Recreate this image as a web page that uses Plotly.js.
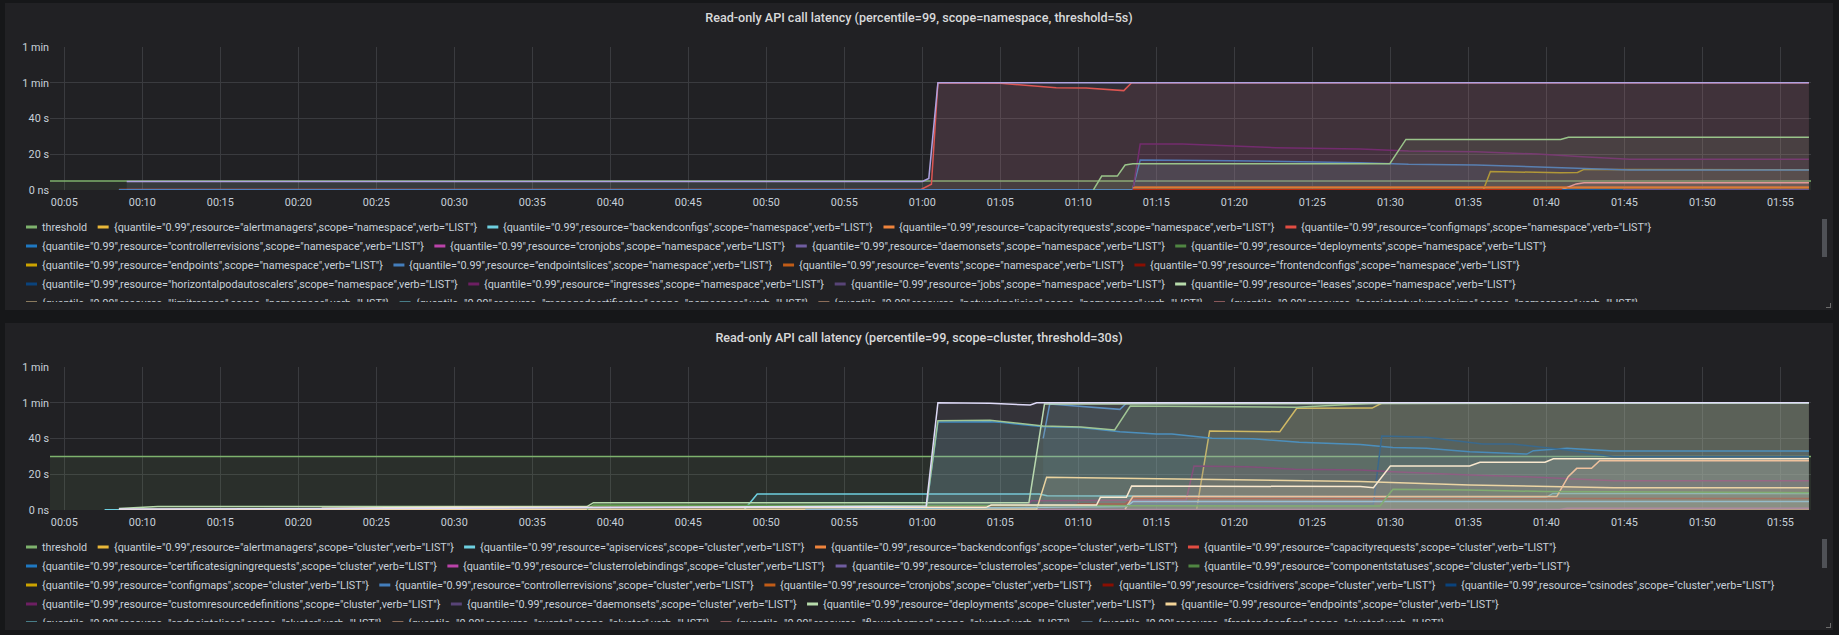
<!DOCTYPE html>
<html><head><meta charset="utf-8">
<script src="https://cdn.plot.ly/plotly-3.0.1.min.js"></script>
<style>
html,body{margin:0;padding:0;background:#161719;width:1839px;height:635px;overflow:hidden;}
.panel{position:absolute;left:5px;width:1828px;background:#212124;}
.fig{position:absolute;left:5px;width:1828px;height:299px;overflow:hidden;}
.handle{position:absolute;width:4px;height:4px;border-right:1px solid #6c6c6c;border-bottom:1px solid #6c6c6c;}
</style></head>
<body>
<div class="panel" style="top:3px;height:307px"></div>
<div class="panel" style="top:323px;height:307px"></div>
<div id="p1" class="fig" style="top:3px"></div>
<div id="p2" class="fig" style="top:323px"></div>
<div class="handle" style="left:1826px;top:303px"></div>
<div class="handle" style="left:1826px;top:623px"></div>
<script>
// ---------- shared ----------
const DAY = '2021-01-01 ';
const X_RANGE = ['00:04:05', '01:56:58'];
const Y_TICKS = [0, 20, 40, 60, 80];
const Y_LABELS = ['0 ns', '20 s', '40 s', '1 min', '1 min'];
const PALETTE = ['#7EB26D','#EAB839','#6ED0E0','#EF843C','#E24D42','#1F78C1','#BA43A9','#705DA0','#508642','#CCA300',
 '#447EBC','#C15C17','#890F02','#0A437C','#6D1F62','#584477','#B7DBAB','#F4D598','#70DBED','#F9BA8F',
 '#F29191','#82B5D8','#E5A8E2','#AEA2E0','#629E51','#E5AC0E','#64B0C8','#E0752D','#BF1B00','#0A50A1',
 '#962D82','#614D93','#9AC48A','#F2C96D','#65C5DB','#F9934E','#EA6460','#5195CE','#D683CE','#806EB7',
 '#3F6833','#967302','#2F575E','#99440A','#58140C','#052B51','#511749','#3F2B5B','#E0F9D7','#FCEACA',
 '#CFFAFF','#F9E2D2','#FCE2DE','#BADFF4','#F9D9F9','#DEDAF7'];

// ---------- panel 1: namespace scope ----------
const NS_TITLE = 'Read-only API call latency (percentile=99, scope=namespace, threshold=5s)';
const NS_RESOURCES = ['alertmanagers','backendconfigs','capacityrequests','configmaps','controllerrevisions','cronjobs',
 'daemonsets','deployments','endpoints','endpointslices','events','frontendconfigs','horizontalpodautoscalers',
 'ingresses','jobs','leases','limitranges','managedcertificates','networkpolicies','persistentvolumeclaims',
 'poddisruptionbudgets','pods','podtemplates','replicasets','replicationcontrollers','resourcequotas',
 'rolebindings','roles','secrets','serviceaccounts','services','statefulsets'];
const NS_THRESHOLD = 5;

const ns_threshold_t = ['00:03:00','01:58:00'];
const ns_threshold_v = [NS_THRESHOLD, NS_THRESHOLD];
const ns_configmaps_t = ['00:08:30','00:59:55','01:00:35','01:01:00','01:05:00','01:07:05','01:08:35','01:10:30','01:12:55','01:13:25','01:56:50'];
const ns_configmaps_v = [0.3,0.3,3.2,60,59.7,58.2,57.2,57.0,55.6,60,60];
const ns_endpoints_t = ['01:35:58','01:36:25','01:40:55','01:42:00','01:42:25','01:56:50'];
const ns_endpoints_v = [0.1,10.3,9.7,9.8,11.5,11.3];
const ns_endpointslices_t = ['00:08:30','01:13:28','01:13:58','01:16:40','01:19:55','01:28:05','01:30:00','01:31:10','01:35:30','01:39:25','01:42:20','01:45:20','01:56:50'];
const ns_endpointslices_v = [0.1,0.1,16.8,16.8,16.4,15.3,14.9,14.4,14.0,13.0,11.9,11.2,11.2];
const ns_events_t = ['01:13:30','01:56:50'];
const ns_events_v = [1.8,1.8];
const ns_ingresses_t = ['01:13:30','01:13:58','01:16:40','01:19:55','01:22:40','01:28:05','01:31:10','01:35:30','01:39:25','01:42:20','01:45:20','01:56:50'];
const ns_ingresses_v = [0.1,25.7,25.7,24.6,23.7,22.9,21.8,21.4,20.1,18.6,17.2,17.2];
const ns_persistentvolumeclaims_t = ['01:40:58','01:41:55','01:42:25','01:56:50'];
const ns_persistentvolumeclaims_v = [0.1,3.4,4.1,4.1];
const ns_podtemplates_t = ['00:09:00','01:00:00','01:00:25','01:01:00','01:56:50'];
const ns_podtemplates_v = [4.8,4.8,6.5,60,60];
const ns_rolebindings_t = ['01:13:30','01:56:50'];
const ns_rolebindings_v = [1.2,1.2];
const ns_roles_t = ['01:13:30','01:56:50'];
const ns_roles_v = [0.2,0.2];
const ns_secrets_t = ['01:41:00','01:56:50'];
const ns_secrets_v = [0.2,0.2];
const ns_services_t = ['01:44:55','01:56:50'];
const ns_services_v = [0.2,0.2];
const ns_statefulsets_t = ['01:10:58','01:11:30','01:12:30','01:13:00','01:13:30','01:29:58','01:31:00','01:40:55','01:41:25','01:56:50'];
const ns_statefulsets_v = [0.1,7.8,7.8,14,14.7,14.7,28.3,28.3,29.5,29.5];

// ---------- panel 2: cluster scope ----------
const CL_TITLE = 'Read-only API call latency (percentile=99, scope=cluster, threshold=30s)';
const CL_RESOURCES = ['alertmanagers','apiservices','backendconfigs','capacityrequests','certificatesigningrequests',
 'clusterrolebindings','clusterroles','componentstatuses','configmaps','controllerrevisions','cronjobs','csidrivers',
 'csinodes','customresourcedefinitions','daemonsets','deployments','endpoints','endpointslices','events','flowschemas',
 'frontendconfigs','horizontalpodautoscalers','ingressclasses','ingresses','jobs','leases','limitranges',
 'managedcertificates','mutatingwebhookconfigurations','namespaces','networkpolicies','nodes','persistentvolumeclaims',
 'persistentvolumes','poddisruptionbudgets','pods','podsecuritypolicies','podtemplates','priorityclasses',
 'prioritylevelconfigurations','replicasets','replicationcontrollers','resourcequotas','rolebindings','roles',
 'runtimeclasses','secrets','serviceaccounts','services','statefulsets','storageclasses',
 'validatingwebhookconfigurations','volumeattachments','volumesnapshotclasses','volumesnapshotcontents'];
const CL_THRESHOLD = 30;

const cl_threshold_t = ['00:03:00','01:58:00'];
const cl_threshold_v = [CL_THRESHOLD, CL_THRESHOLD];
const cl_alertmanagers_t = ['01:17:35','01:18:25','01:22:55','01:24:00','01:28:50','01:29:30','01:56:50'];
const cl_alertmanagers_v = [0.2,44.2,43.8,56.9,57,60,60];
const cl_apiservices_t = ['00:07:35','00:48:35','00:49:25','01:07:30','01:08:00','01:28:00','01:40:00','01:40:25','01:56:50'];
const cl_apiservices_v = [0.1,0.1,9.0,9.0,8.0,7.6,7.1,9.3,9.3];
const cl_backendconfigs_t = ['00:49:30','01:56:50'];
const cl_backendconfigs_v = [0.1,0.1];
const cl_certificatesigningrequests_t = ['00:52:30','01:00:15','01:01:00','01:04:20','01:05:10','01:07:45','01:10:10','01:12:40','01:15:00','01:16:00','01:18:35','01:21:10','01:24:10','01:28:05','01:30:10','01:32:20','01:35:05','01:38:45','01:39:10','01:41:20','01:44:20','01:56:50'];
const cl_certificatesigningrequests_v = [0.1,0.3,49.2,49.4,48.9,46.6,46.1,43.8,42.5,42.5,40.1,39.9,37.9,36.7,34.9,34.5,32.6,31.3,33.2,34.5,33.0,33.0];
const cl_clusterrolebindings_t = ['00:58:00','01:40:50','01:41:20','01:56:50'];
const cl_clusterrolebindings_v = [0.3,0.3,1.0,1.0];
const cl_controllerrevisions_t = ['01:07:45','01:08:10','01:12:40','01:13:05','01:56:50'];
const cl_controllerrevisions_v = [40.1,59.3,56.3,59.7,60];
const cl_csidrivers_t = ['00:49:30','01:09:30','01:10:00','01:13:00','01:13:30','01:56:50'];
const cl_csidrivers_v = [1.6,1.6,3.4,3.4,6.5,6.5];
const cl_csinodes_t = ['01:13:20','01:28:55','01:29:27','01:32:20','01:35:55','01:37:50','01:41:20','01:44:20','01:56:50'];
const cl_csinodes_v = [3.4,3.4,41.4,40.7,36.9,36.9,33.6,29.8,29.8];
const cl_customresourcedefinitions_t = ['01:06:30','01:07:00','01:16:55','01:17:25','01:20:50','01:23:50','01:28:05','01:30:10','01:35:05','01:38:45','01:44:20','01:56:50'];
const cl_customresourcedefinitions_v = [0.3,5.2,5.6,24.6,24.2,22.8,22.4,21.4,19.6,18.6,16.4,16.4];
const cl_deployments_t = ['00:08:30','00:11:00','00:38:30','00:38:55','01:06:50','01:07:50','01:56:50'];
const cl_deployments_v = [0.9,1.9,1.9,4.1,4.1,59.3,60];
const cl_endpoints_t = ['00:08:30','01:07:20','01:07:58','01:16:40','01:28:05','01:35:05','01:44:20','01:56:50'];
const cl_endpoints_v = [0.3,0.5,18.3,17.2,15.9,14.0,12.5,12.5];
const cl_events_t = ['01:13:00','01:13:30','01:40:40','01:41:24','01:41:57','01:42:54','01:43:25','01:56:50'];
const cl_events_v = [0.5,7.5,7.5,18.6,23.3,23.3,27.6,27.6];
const cl_frontendconfigs_t = ['00:52:30','01:13:05','01:13:30','01:56:50'];
const cl_frontendconfigs_v = [0.3,1.9,4.7,4.7];
const cl_ingresses_t = ['00:38:30','00:38:55','01:28:00','01:29:20','01:30:10','01:35:05','01:40:00','01:56:50'];
const cl_ingresses_v = [0.3,2.8,2.2,2.2,11.6,11.2,10.3,9.7];
const cl_nodes_t = ['01:00:15','01:01:00','01:04:20','01:07:45','01:10:10','01:12:20','01:13:20','01:24:00','01:29:30','01:56:50'];
const cl_nodes_v = [0.5,50.0,50.2,47.0,46.4,44.8,58.2,57.5,60,60];
const cl_services_t = ['00:21:30','00:30:00','01:04:05','01:04:25','01:11:10','01:11:25','01:13:05','01:13:25','01:28:05','01:28:55','01:30:00','01:35:05','01:35:45','01:39:55','01:40:27','01:56:50'];
const cl_services_v = [1.0,1.5,1.5,2.8,2.8,7.1,7.1,13.4,13.1,12.5,24.6,24.6,26.7,26.7,28.7,28.7];
const cl_volumesnapshotcontents_t = ['00:08:30','00:30:00','01:00:15','01:01:00','01:04:20','01:06:55','01:07:20','01:56:50'];
const cl_volumesnapshotcontents_v = [0.5,1.0,2.2,60,59.7,58.7,60,60];

// ---------- helpers ----------
function rgba(hex, a){
  const n = parseInt(hex.slice(1), 16);
  return 'rgba(' + ((n>>16)&255) + ',' + ((n>>8)&255) + ',' + (n&255) + ',' + a + ')';
}
function series(names, name, t, v){
  const label = name === 'threshold' ? 'threshold' : '{quantile="0.99",resource="' + name + '",scope="' + names.scope + '",verb="LIST"}';
  const idx = name === 'threshold' ? 0 : names.list.indexOf(name) + 1;
  const c = PALETTE[idx % PALETTE.length];
  return {idx: idx, trace: {type:'scatter', mode:'lines', name: label, x: t.map(s => DAY + s), y: v,
    line:{color:c, width:1.5}, fill:'tozeroy', fillcolor: rgba(c, 0.1), hoverinfo:'skip'}};
}

const FIG_W = 1828, FIG_H = 299, M = {l:45, r:22, t:44, b:112};
const PW = FIG_W - M.l - M.r, PH = FIG_H - M.t - M.b;
const px2x = px => (px - M.l) / PW;
const py2y = py => (FIG_H - M.b - py) / PH;
const FONT = 'Roboto, "Helvetica Neue", Arial, sans-serif';
const TXT = '#c7d0d9';

const meas = document.createElement('canvas').getContext('2d');
meas.font = '10.8px Roboto';

function legend(names){
  const labels = ['threshold'].concat(names.list.map(r => '{quantile="0.99",resource="' + r + '",scope="' + names.scope + '",verb="LIST"}'));
  const ann = [], shp = [];
  let x = 21, row = 0;
  const rowY = r => 224 + 19 * r;
  labels.forEach((lab, i) => {
    const w = 16 + meas.measureText(lab).width;
    if (x > 21 && x + w > 1817) { row++; x = 21; }
    if (row <= 4) {
      const y = rowY(row);
      const c = PALETTE[i % PALETTE.length];
      shp.push({type:'rect', xref:'paper', yref:'paper', x0:px2x(x), x1:px2x(x+11), y0:py2y(y+1.5), y1:py2y(y-1.5),
        fillcolor:c, line:{width:0}, layer:'above'});
      ann.push({xref:'paper', yref:'paper', x:px2x(x+16), y:py2y(y), xanchor:'left', yanchor:'middle', showarrow:false,
        text: lab.replace(/</g,'&lt;'), borderpad:0, borderwidth:0, font:{family:FONT, size:10.8, color:TXT}});
    }
    x += w + 10.5;
  });
  return {ann, shp};
}

function layoutFor(title, names, thumbH){
  const lg = legend(names);
  lg.shp.push({type:'rect', xref:'paper', yref:'paper', x0:px2x(1817), x1:px2x(1822), y0:py2y(216+thumbH), y1:py2y(216),
    fillcolor:'#4f5156', line:{width:0}, layer:'above'});
  return {
    width: FIG_W, height: FIG_H, margin: M,
    paper_bgcolor:'#212124', plot_bgcolor:'#212124', showlegend:false,
    title:{text:title, xref:'container', x:0.5, xanchor:'center', yref:'container', y:1 - 15/FIG_H, yanchor:'middle',
      font:{family:FONT, size:12.6, weight:500, color:'#d8d9da'}},
    xaxis:{type:'date', range:[DAY + X_RANGE[0], DAY + X_RANGE[1]], tick0: DAY + '00:05:00', dtick: 300000,
      tickformat:'%H:%M', showgrid:true, gridcolor:'#3a3b3f', zeroline:false, showline:false, ticks:'',
      ticklabelstandoff:4, tickfont:{family:FONT, size:10.8, color:TXT}, fixedrange:true},
    yaxis:{range:[0, 80], tickmode:'array', tickvals:Y_TICKS, ticktext:Y_LABELS, showgrid:true, gridcolor:'#3a3b3f',
      zeroline:false, showline:false, ticks:'', tickfont:{family:FONT, size:10.8, color:TXT}, fixedrange:true},
    annotations: lg.ann, shapes: lg.shp
  };
}

const NS = {list: NS_RESOURCES, scope: 'namespace'};
const CL = {list: CL_RESOURCES, scope: 'cluster'};

const nsSeries = [
  series(NS, 'threshold', ns_threshold_t, ns_threshold_v),
  series(NS, 'configmaps', ns_configmaps_t, ns_configmaps_v),
  series(NS, 'endpoints', ns_endpoints_t, ns_endpoints_v),
  series(NS, 'endpointslices', ns_endpointslices_t, ns_endpointslices_v),
  series(NS, 'events', ns_events_t, ns_events_v),
  series(NS, 'ingresses', ns_ingresses_t, ns_ingresses_v),
  series(NS, 'persistentvolumeclaims', ns_persistentvolumeclaims_t, ns_persistentvolumeclaims_v),
  series(NS, 'podtemplates', ns_podtemplates_t, ns_podtemplates_v),
  series(NS, 'rolebindings', ns_rolebindings_t, ns_rolebindings_v),
  series(NS, 'roles', ns_roles_t, ns_roles_v),
  series(NS, 'secrets', ns_secrets_t, ns_secrets_v),
  series(NS, 'services', ns_services_t, ns_services_v),
  series(NS, 'statefulsets', ns_statefulsets_t, ns_statefulsets_v)
].sort((a,b) => a.idx - b.idx).map(s => s.trace);

const clSeries = [
  series(CL, 'threshold', cl_threshold_t, cl_threshold_v),
  series(CL, 'alertmanagers', cl_alertmanagers_t, cl_alertmanagers_v),
  series(CL, 'apiservices', cl_apiservices_t, cl_apiservices_v),
  series(CL, 'backendconfigs', cl_backendconfigs_t, cl_backendconfigs_v),
  series(CL, 'certificatesigningrequests', cl_certificatesigningrequests_t, cl_certificatesigningrequests_v),
  series(CL, 'clusterrolebindings', cl_clusterrolebindings_t, cl_clusterrolebindings_v),
  series(CL, 'controllerrevisions', cl_controllerrevisions_t, cl_controllerrevisions_v),
  series(CL, 'csidrivers', cl_csidrivers_t, cl_csidrivers_v),
  series(CL, 'csinodes', cl_csinodes_t, cl_csinodes_v),
  series(CL, 'customresourcedefinitions', cl_customresourcedefinitions_t, cl_customresourcedefinitions_v),
  series(CL, 'deployments', cl_deployments_t, cl_deployments_v),
  series(CL, 'endpoints', cl_endpoints_t, cl_endpoints_v),
  series(CL, 'events', cl_events_t, cl_events_v),
  series(CL, 'frontendconfigs', cl_frontendconfigs_t, cl_frontendconfigs_v),
  series(CL, 'ingresses', cl_ingresses_t, cl_ingresses_v),
  series(CL, 'nodes', cl_nodes_t, cl_nodes_v),
  series(CL, 'services', cl_services_t, cl_services_v),
  series(CL, 'volumesnapshotcontents', cl_volumesnapshotcontents_t, cl_volumesnapshotcontents_v)
].sort((a,b) => a.idx - b.idx).map(s => s.trace);

const CFG = {staticPlot:true, displayModeBar:false};
Plotly.newPlot('p1', nsSeries, layoutFor(NS_TITLE, NS, 38), CFG);
Plotly.newPlot('p2', clSeries, layoutFor(CL_TITLE, CL, 29), CFG);
</script>
</body></html>
